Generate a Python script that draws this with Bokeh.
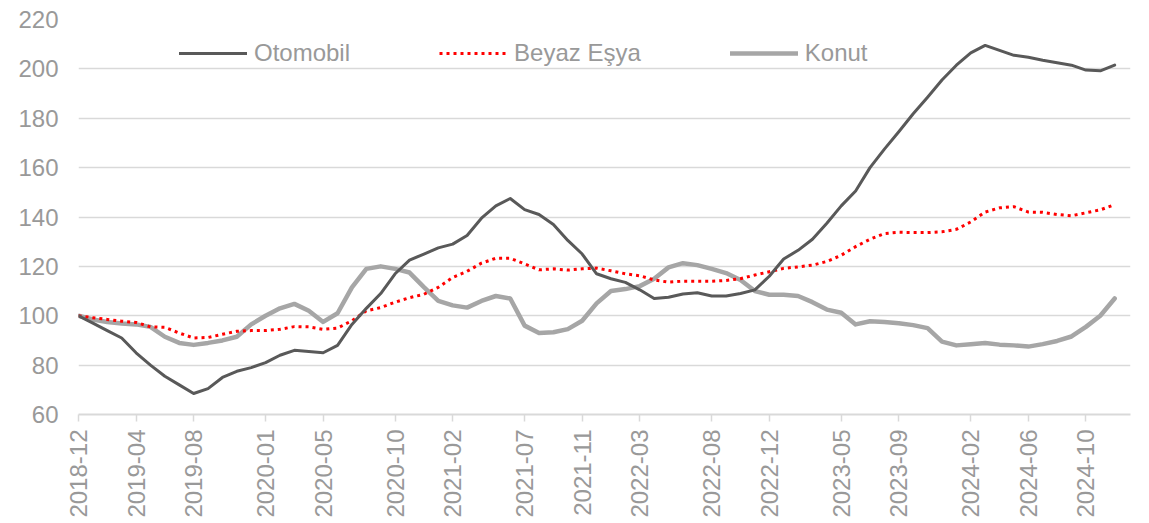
import math
from bokeh.plotting import figure
from bokeh.models import ColumnDataSource, FixedTicker, Legend, LegendItem, Range1d
from bokeh.embed import file_html
from bokeh.resources import INLINE

# ---- data (month index 0 = 2018-12) ----
months = list(range(73))
tick_months = [0, 4, 8, 13, 17, 22, 26, 31, 35, 39, 44, 48, 53, 57, 62, 66, 70]
tick_labels = ["2018-12", "2019-04", "2019-08", "2020-01", "2020-05", "2020-10",
               "2021-02", "2021-07", "2021-11", "2022-03", "2022-08", "2022-12",
               "2023-05", "2023-09", "2024-02", "2024-06", "2024-10"]

otomobil = [100, 97, 94, 91, 85, 80, 75.5, 72, 68.5, 70.5, 75, 77.5, 79, 81, 84, 86,
            85.5, 85, 88, 96.5, 103, 109, 117, 122.5, 125, 127.5, 129, 132.5, 139.5,
            144.5, 147.5, 143, 141, 137, 130.5, 125, 117, 115, 113.5, 110.5, 107, 107.5,
            108.8, 109.3, 108, 108, 109, 110.5, 116, 123, 126.5, 131, 137.5, 144.5,
            150.5, 160, 167.5, 174.5, 181.8, 188.5, 195.5, 201.5, 206.5, 209.5, 207.5,
            205.5, 204.7, 203.5, 202.5, 201.5, 199.5, 199.2, 201.5]

beyaz_esya = [100, 99.2, 98.5, 97.8, 97.3, 95.5, 95.3, 93, 91, 91.2, 92.5, 93.7, 94, 94,
              94.5, 95.6, 95.5, 94.5, 95, 98, 102, 103.3, 105.5, 107.3, 108.7, 111.5,
              115.5, 118, 121.3, 123.3, 123.3, 121, 118.6, 119, 118.5, 119, 119.3, 118.2,
              117, 116.2, 114.5, 113.6, 114, 114, 114, 114.3, 115, 116.5, 117.8, 119.2,
              119.8, 120.5, 122, 124.5, 128, 131, 133.3, 133.8, 133.7, 133.7, 134, 135,
              138, 142, 143.7, 144.2, 142, 141.9, 141, 140.5, 141.7, 142.9, 145]

konut = [100, 98.5, 97.5, 96.9, 96.5, 95.5, 91.5, 89, 88.2, 89, 90, 91.5, 96.5, 100, 103,
         104.8, 102, 97.5, 101, 111.5, 119, 120, 119, 117.5, 111.6, 106, 104.2, 103.3,
         106, 108, 107, 96, 93, 93.3, 94.6, 98, 105, 110, 110.8, 112, 115, 119.6, 121.3,
         120.5, 119, 117.3, 114.5, 110, 108.5, 108.5, 108, 105.5, 102.5, 101.2, 96.5,
         97.8, 97.5, 97, 96.2, 95, 89.5, 88, 88.5, 89, 88.3, 88, 87.5, 88.5, 89.8, 91.6,
         95.5, 100, 107]

src = ColumnDataSource(dict(m=months, oto=otomobil, bey=beyaz_esya, kon=konut))

FONT = "Liberation Sans"
TXT = "#999999"
GRID = "#d9d9d9"

p = figure(width=1141, height=522, output_backend="svg", toolbar_location=None,
           x_range=Range1d(0, 73.1), y_range=Range1d(60, 220),
           min_border_left=78, min_border_right=11, min_border_top=19,
           min_border_bottom=108)
p.outline_line_color = None
p.background_fill_color = "white"
p.border_fill_color = "white"

r_kon = p.line("m", "kon", source=src, line_color="#a6a6a6", line_width=4.5,
               line_join="round", line_cap="round")
r_bey = p.line("m", "bey", source=src, line_color="#ff0000", line_width=3,
               line_dash="3 4", line_join="round")
r_oto = p.line("m", "oto", source=src, line_color="#595959", line_width=3,
               line_join="round", line_cap="round")

# axes
p.xgrid.visible = False
p.ygrid.grid_line_color = GRID
p.ygrid.grid_line_width = 1.5
p.yaxis.ticker = FixedTicker(ticks=[60, 80, 100, 120, 140, 160, 180, 200, 220])
p.yaxis.axis_line_color = None
p.yaxis.major_tick_line_color = None
p.yaxis.minor_tick_line_color = None
p.yaxis.major_label_standoff = 14
p.yaxis.major_label_text_font = FONT
p.yaxis.major_label_text_font_size = "24px"
p.yaxis.major_label_text_color = TXT

p.xaxis.ticker = FixedTicker(ticks=tick_months)
p.xaxis.major_label_overrides = {m: l for m, l in zip(tick_months, tick_labels)}
p.xaxis.major_label_orientation = math.pi / 2
p.xaxis.axis_line_color = GRID
p.xaxis.axis_line_width = 2
p.xaxis.major_tick_line_color = GRID
p.xaxis.major_tick_line_width = 1.5
p.xaxis.major_tick_in = 0
p.xaxis.major_tick_out = 7
p.xaxis.minor_tick_line_color = None
p.xaxis.major_label_standoff = 8
p.xaxis.major_label_text_font = FONT
p.xaxis.major_label_text_font_size = "24px"
p.xaxis.major_label_text_color = TXT

legend = Legend(items=[LegendItem(label="Otomobil", renderers=[r_oto]),
                       LegendItem(label="Beyaz Eşya", renderers=[r_bey]),
                       LegendItem(label="Konut", renderers=[r_kon])],
                orientation="horizontal", location=(101, 347),
                glyph_width=68, glyph_height=26, label_height=26,
                label_standoff=7, spacing=89, padding=0, margin=0,
                border_line_color=None, background_fill_alpha=0,
                label_text_font=FONT, label_text_font_size="24px",
                label_text_color=TXT)
p.add_layout(legend, "center")

open("out.html", "w").write(file_html(p, INLINE))
